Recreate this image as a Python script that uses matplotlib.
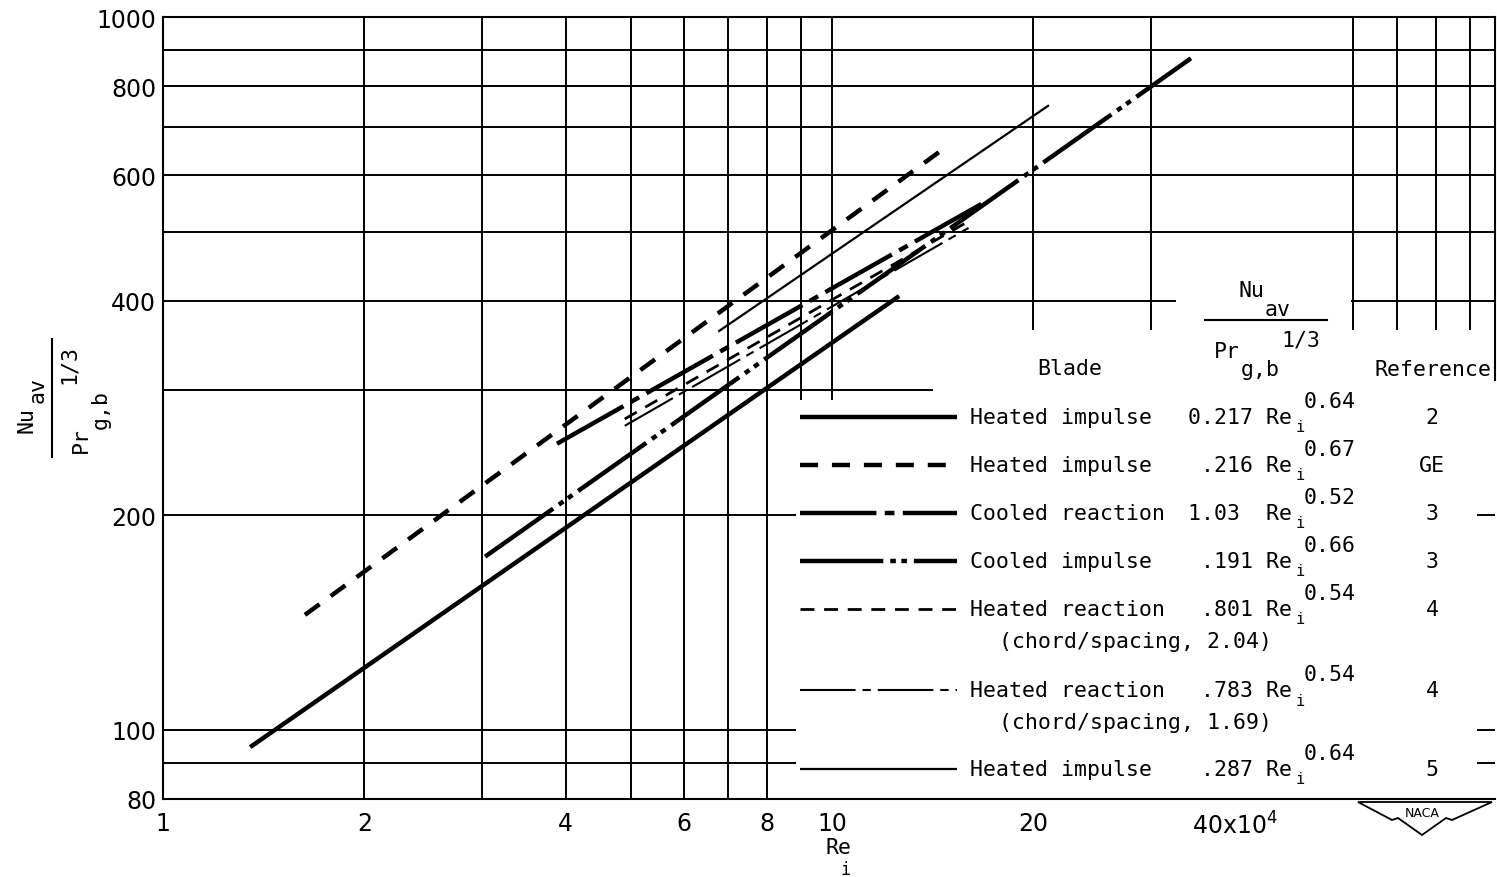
import matplotlib
matplotlib.use("Agg")
import matplotlib.pyplot as plt
from matplotlib.lines import Line2D
from matplotlib.patches import Polygon
from matplotlib.ticker import NullLocator

# correlations (Re_i in units of 10^4)
blades = ["Heated impulse", "Heated impulse", "Cooled reaction", "Cooled impulse",
          "Heated reaction", "Heated reaction", "Heated impulse"]
notes = ["", "", "", "", "(chord/spacing, 2.04)", "(chord/spacing, 1.69)", ""]
coefs = ["0.217", ".216", "1.03 ", ".191", ".801", ".783", ".287"]
exps = ["0.64", "0.67", "0.52", "0.66", "0.54", "0.54", "0.64"]
refs = ["2", "GE", "3", "3", "4", "4", "5"]

re_start = [1.35, 1.63, 3.88, 3.03, 4.9, 4.9, 6.76]
re_end = [12.6, 14.9, 16.8, 34.4, 16.0, 16.0, 21.1]
nu_start = [94.6, 145, 252, 175, 273, 267, 362]
nu_end = [406, 660, 548, 875, 517, 506, 752]

W, H = 1497, 878
L, R, T, B = 163, 1495, 18, 800
DEC = 669.0


def fx(px):
    return px / W


def fy(py):
    return 1 - py / H


plt.rcParams["lines.scale_dashes"] = False
styles = [
    dict(lw=3.2, ls="-"),
    dict(lw=3.2, ls=(0, (13, 10))),
    dict(lw=3.2, ls=(0, (55, 6, 7, 6))),
    dict(lw=3.2, ls=(0, (60, 5, 4, 4, 4, 5))),
    dict(lw=2.0, ls=(0, (10, 7))),
    dict(lw=1.5, ls=(0, (40, 5, 6, 5))),
    dict(lw=1.6, ls="-"),
]

fig = plt.figure(figsize=(W / 100, H / 100), dpi=100)
ax = fig.add_axes([fx(L), 1 - B / H, (R - L) / W, (B - T) / H])
ax.set_xscale("log")
ax.set_yscale("log")
ax.set_xlim(1, 10 ** ((R - L) / DEC))
ax.set_ylim(80, 1000)

for s in ["left", "top", "bottom", "right"]:
    ax.spines[s].set_linewidth(1.5)
ax.spines["right"].set_bounds(310, 1000)

# grid, partly blanked where the key sits
gw = 1.4


def xf(px):
    return (px - L) / (R - L)


for y in [900, 800, 700, 600, 500]:
    ax.axhline(y, color="black", lw=gw)
ax.axhline(400, xmax=xf(1175), color="black", lw=gw)
ax.axhline(400, xmin=xf(1352), color="black", lw=gw)
ax.axhline(300, xmax=xf(932), color="black", lw=gw)
for y in [200, 100, 90]:
    ax.axhline(y, xmax=xf(795), color="black", lw=gw)
    ax.axhline(y, xmin=xf(1478), color="black", lw=gw)

for x in [2, 3, 4, 5, 6, 7, 8]:
    ax.axvline(x, color="black", lw=gw)
for x in [9, 10]:
    ax.axvline(x, ymin=(B - 400) / (B - T), color="black", lw=gw)
for x in [20, 30, 60, 70, 80, 90]:
    ax.axvline(x, ymin=(B - 330) / (B - T), color="black", lw=gw)

for i in range(len(blades)):
    ax.plot([re_start[i], re_end[i]], [nu_start[i], nu_end[i]], color="black",
            solid_capstyle="butt", dash_capstyle="butt", **styles[i])

tick_font = ["Liberation Sans Narrow", "DejaVu Sans"]
ax.xaxis.set_minor_locator(NullLocator())
ax.yaxis.set_minor_locator(NullLocator())
ax.set_xticks([1, 2, 4, 6, 8, 10, 20, 40])
ax.set_xticklabels(["1", "2", "4", "6", "8", "10", "20", r"40x10$^4$"])
ax.set_yticks([80, 100, 200, 400, 600, 800, 1000])
ax.set_yticklabels(["80", "100", "200", "400", "600", "800", "1000"])
ax.tick_params(length=0, labelsize=17)
ax.tick_params(axis="x", pad=9)
ax.tick_params(axis="y", pad=5)
for lab in ax.get_xticklabels() + ax.get_yticklabels():
    lab.set_family(tick_font)

mono = "DejaVu Sans Mono"
fs = 15.5

# axis titles
fig.text(fx(838), fy(848), "Re", family=mono, fontsize=fs, ha="center", va="center")
fig.text(fx(846), fy(870), "i", family=mono, fontsize=12, ha="center", va="center")
fig.text(fx(27), fy(420), "Nu", family=mono, fontsize=fs, rotation=90, ha="center", va="center")
fig.text(fx(38), fy(390), "av", family=mono, fontsize=fs, rotation=90, ha="center", va="center")
fig.add_artist(Line2D([fx(52), fx(52)], [fy(340), fy(458)], color="black", lw=1.5))
fig.text(fx(69), fy(364), "1/3", family=mono, fontsize=fs, rotation=90, ha="center", va="center")
fig.text(fx(81), fy(440), "Pr", family=mono, fontsize=fs, rotation=90, ha="center", va="center")
fig.text(fx(101), fy(410), "g,b", family=mono, fontsize=fs, rotation=90, ha="center", va="center")

# key
fig.text(fx(1070), fy(369), "Blade", family=mono, fontsize=fs, ha="center", va="center")
fig.text(fx(1433), fy(370), "Reference", family=mono, fontsize=fs, ha="center", va="center")
fig.text(fx(1251), fy(291), "Nu", family=mono, fontsize=fs, ha="center", va="center")
fig.text(fx(1278), fy(310), "av", family=mono, fontsize=fs, ha="center", va="center")
fig.add_artist(Line2D([fx(1205), fx(1327)], [fy(321), fy(321)], color="black", lw=1.5))
fig.text(fx(1301), fy(340), "1/3", family=mono, fontsize=fs, ha="center", va="center")
fig.text(fx(1227), fy(352), "Pr", family=mono, fontsize=fs, ha="center", va="center")
fig.text(fx(1260), fy(370), "g,b", family=mono, fontsize=fs, ha="center", va="center")

row_y = [418, 466, 514, 562, 610, 691, 770]
for i, yy in enumerate(row_y):
    fig.add_artist(Line2D([fx(800), fx(957)], [fy(yy), fy(yy)], color="black",
                          solid_capstyle="butt", dash_capstyle="butt", **styles[i]))
    fig.text(fx(970), fy(yy), blades[i], family=mono, fontsize=fs, ha="left", va="center")
    fig.text(fx(1292), fy(yy), coefs[i] + " Re", family=mono, fontsize=fs, ha="right", va="center")
    fig.text(fx(1296), fy(yy + 10), "i", family=mono, fontsize=11, ha="left", va="center")
    fig.text(fx(1304), fy(yy - 16), exps[i], family=mono, fontsize=fs, ha="left", va="center")
    fig.text(fx(1432), fy(yy), refs[i], family=mono, fontsize=fs, ha="center", va="center")
    if notes[i]:
        fig.text(fx(999), fy(yy + 32), notes[i], family=mono, fontsize=fs, ha="left", va="center")

# NACA emblem
wing = [(1358, 803), (1492, 803), (1452, 821), (1446, 819), (1422, 836),
        (1398, 819), (1392, 821)]
fig.add_artist(Polygon([(fx(a), fy(b)) for a, b in wing], closed=True, fill=False,
                       edgecolor="black", lw=1.3))
fig.text(fx(1422), fy(814), "NACA", family="DejaVu Sans", fontsize=9,
         ha="center", va="center")

fig.savefig("out.png", dpi=100, facecolor="white")
